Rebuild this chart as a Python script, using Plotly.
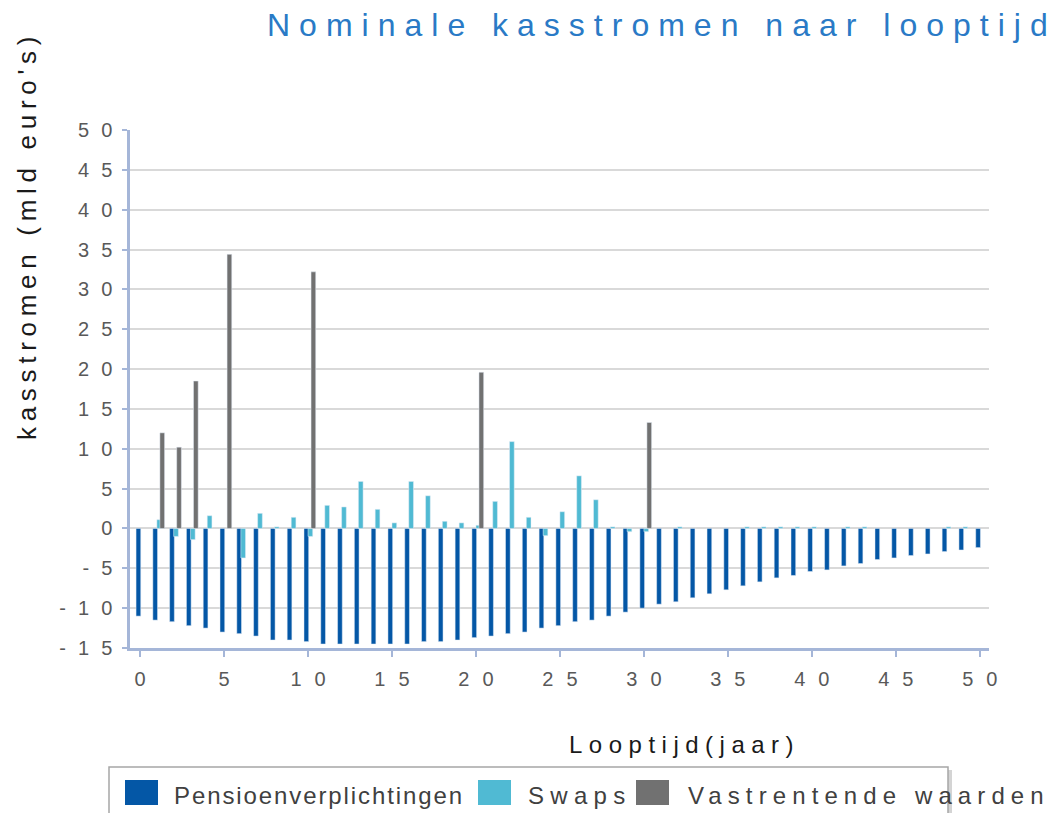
import plotly.graph_objects as go

# ---------------- data ----------------
years = list(range(0, 51))
pension = [-11.0, -11.5, -11.7, -12.2, -12.5, -13.0, -13.2, -13.5, -14.0, -14.0,
           -14.2, -14.5, -14.5, -14.5, -14.5, -14.5, -14.5, -14.2, -14.2, -14.0,
           -13.7, -13.5, -13.2, -13.0, -12.5, -12.2, -11.7, -11.5, -11.0, -10.5,
           -10.0, -9.5, -9.2, -8.7, -8.2, -7.7, -7.2, -6.7, -6.2, -5.9,
           -5.4, -5.2, -4.7, -4.4, -3.9, -3.7, -3.4, -3.2, -2.9, -2.7, -2.4]
swaps = [None, 1.1, -1.0, -1.4, 1.6, None, -3.7, 1.9, 0.2, 1.4,
         -1.0, 2.9, 2.7, 5.9, 2.4, 0.7, 5.9, 4.1, 0.9, 0.7,
         0.4, 3.4, 10.9, 1.4, -0.9, 2.1, 6.6, 3.6, 0.2, -0.4,
         -0.4, None, 0.2, None, None, None, 0.2, 0.2, 0.2, 0.2,
         0.2, None, 0.2, 0.2, None, None, None, None, 0.2, 0.2, None]
fixed_income = [None, 12.0, 10.2, 18.5, None, 34.4, None, None, None, None,
                32.2, None, None, None, None, None, None, None, None, None,
                19.6, None, None, None, None, None, None, None, None, None,
                13.3] + [None] * 20
x_tick_vals = [0, 5, 10, 15, 20, 25, 30, 35, 40, 45, 50]
y_tick_vals = [-15, -10, -5, 0, 5, 10, 15, 20, 25, 30, 35, 40, 45, 50]
series_names = ["Pensioenverplichtingen", "Swaps", "Vastrentende waarden"]
title_text = "Nominale kasstromen naar looptijd"
x_title = "Looptijd(jaar)"
y_title = "kasstromen (mld euro's)"

# ---------------- style ----------------
C_PENSION = "#0457A6"
C_SWAPS = "#50BAD3"
C_FIXED = "#717171"
AXIS_C = "#A5B6D8"
GRID_C = "#D9D9D9"
FONT = "Liberation Sans, Arial, sans-serif"

OFF = 8                 # page body margin of the html page
W, H = 1055 - OFF, 813 - OFF
L, R, T, B = 122, 981, 122, 640  # plot area in figure px


def spaced(s, ls):
    if len(s) < 2:
        return s
    return f'<span style="letter-spacing:{ls}px">{s[:-1]}</span>{s[-1]}'


def px_x(page_x):
    return (page_x - OFF - L) / (R - L)


def px_y(page_y):
    return (B - (page_y - OFF)) / (B - T)


bar_w = 0.28
fig = go.Figure()
fig.add_trace(go.Bar(x=years, y=pension, name=series_names[0], marker_color=C_PENSION,
                     width=bar_w, offset=-0.24, showlegend=False))
fig.add_trace(go.Bar(x=years, y=swaps, name=series_names[1], marker_color=C_SWAPS,
                     width=bar_w, offset=0.0, showlegend=False))
fig.add_trace(go.Bar(x=years, y=fixed_income, name=series_names[2], marker_color=C_FIXED,
                     width=bar_w, offset=0.18, showlegend=False))

annotations = []
shapes = []

# title
annotations.append(dict(text=spaced(title_text, 9), x=px_x(265), y=px_y(25),
                        xref="paper", yref="paper", xanchor="left", yanchor="middle",
                        showarrow=False, font=dict(family=FONT, size=32, color="#2A7AC6")))
# y title
annotations.append(dict(text=spaced(y_title, 5.7), x=px_x(27), y=px_y(239),
                        xref="paper", yref="paper", xanchor="center", yanchor="middle",
                        textangle=-90, showarrow=False,
                        font=dict(family=FONT, size=26, color="#1A1A1A")))
# x title
annotations.append(dict(text=spaced(x_title, 6.5), x=px_x(681), y=px_y(744),
                        xref="paper", yref="paper", xanchor="center", yanchor="middle",
                        showarrow=False, font=dict(family=FONT, size=24, color="#1A1A1A")))

# legend (drawn manually to reproduce the reference layout)
shapes.append(dict(type="rect", xref="paper", yref="paper",
                   x0=px_x(112), x1=px_x(952), y0=px_y(840), y1=px_y(770),
                   fillcolor="#D4D4D4", line=dict(width=0), layer="above"))
shapes.append(dict(type="rect", xref="paper", yref="paper",
                   x0=px_x(109), x1=px_x(948), y0=px_y(840), y1=px_y(767),
                   fillcolor="white", line=dict(color="#A6A6A6", width=1.5), layer="above"))
leg_items = [(125, 172, C_PENSION, series_names[0], 1.9),
             (478, 526, C_SWAPS, series_names[1], 6.3),
             (636, 686, C_FIXED, series_names[2], 6.1)]
for sq_x, txt_x, col, name, ls in leg_items:
    annotations.append(dict(text=" ", x=px_x(sq_x), y=px_y(780), xref="paper", yref="paper",
                            xanchor="left", yanchor="top", width=33, height=25,
                            bgcolor=col, borderpad=0, borderwidth=0, showarrow=False,
                            font=dict(size=4)))
    annotations.append(dict(text=spaced(name, ls), x=px_x(txt_x), y=px_y(795),
                            xref="paper", yref="paper", xanchor="left", yanchor="middle",
                            showarrow=False, font=dict(family=FONT, size=24, color="#404040")))

fig.update_layout(
    width=W, height=H,
    margin=dict(l=L, r=W - R, t=T, b=H - B, autoexpand=False),
    paper_bgcolor="white", plot_bgcolor="white",
    barmode="overlay",
    font=dict(family=FONT, color="#595959"),
    annotations=annotations, shapes=shapes,
    xaxis=dict(range=[-0.6, 50.55], tickvals=x_tick_vals,
               ticktext=[spaced(str(v), 13) for v in x_tick_vals],
               showgrid=False, zeroline=False, showline=True, linecolor=AXIS_C, linewidth=2.5,
               ticks="outside", ticklen=6, tickwidth=2, tickcolor=AXIS_C,
               tickfont=dict(family=FONT, size=20, color="#595959"),
               ticklabelstandoff=5, automargin=False),
    yaxis=dict(range=[-15, 50], tickvals=y_tick_vals,
               ticktext=[spaced(str(v), 12) for v in y_tick_vals],
               showgrid=True, gridcolor=GRID_C, gridwidth=2,
               zeroline=True, zerolinecolor=GRID_C, zerolinewidth=2,
               showline=True, linecolor=AXIS_C, linewidth=2.5,
               ticks="outside", ticklen=5, tickwidth=2, tickcolor=AXIS_C,
               tickfont=dict(family=FONT, size=20, color="#595959"),
               ticklabelstandoff=6, automargin=False),
)

fig.write_html("out.html")
